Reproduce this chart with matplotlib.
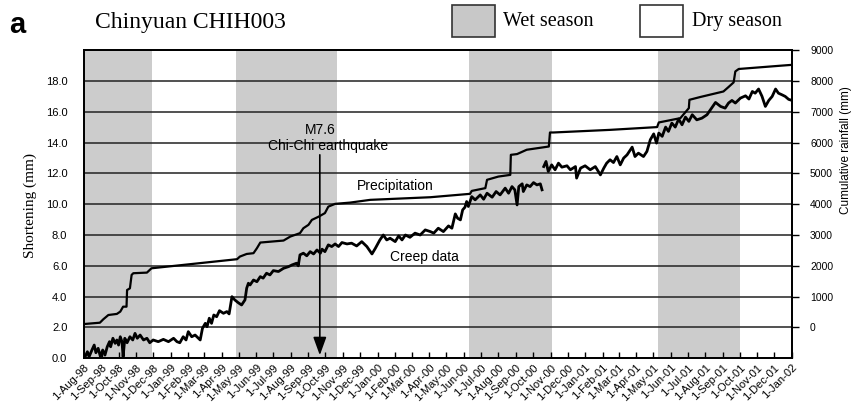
import numpy as np
import pandas as pd
import matplotlib
matplotlib.use("Agg")
import matplotlib.pyplot as plt
from matplotlib.patches import Rectangle

# time is given as days after 1-Aug-98
start = np.datetime64("1998-08-01")

# cumulative rainfall (mm), right axis
rain_days = [2, 28, 34, 43, 58, 64, 69, 75, 76, 81, 84, 87, 111, 119, 270, 275, 287, 299,
             305, 311, 352, 364, 381, 387, 396, 402, 414, 425, 431, 443, 469, 505, 611,
             681, 684, 708, 711, 731, 752, 753, 764, 781, 820, 822, 828, 928, 1011, 1014,
             1052, 1067, 1068, 1087, 1128, 1137, 1146, 1149, 1155, 1228, 1246]
rain_mm = [115, 155, 265, 405, 440, 515, 675, 675, 1215, 1270, 1705, 1760, 1780, 1920,
           2215, 2300, 2385, 2410, 2570, 2755, 2820, 2950, 3060, 3220, 3330, 3490, 3595,
           3710, 3920, 4010, 4050, 4140, 4225, 4335, 4430, 4520, 4790, 4895, 4950, 5600,
           5625, 5765, 5870, 6325, 6325, 6410, 6500, 6650, 6790, 7115, 7385, 7475, 7655,
           7800, 7950, 8305, 8385, 8490, 8515]

# creep data (shortening, mm) before the data gap
creep_days_a = [2, 6, 9, 14, 18, 21, 25, 29, 33, 37, 41, 45, 47, 51, 55, 58, 61, 64, 67, 69,
                72, 76, 81, 86, 90, 94, 99, 105, 111, 116, 122, 131, 140, 149, 158, 164, 169,
                175, 180, 184, 190, 196, 205, 209, 214, 217, 221, 225, 229, 234, 239, 246,
                252, 256, 261, 266, 272, 278, 284, 287, 290, 293, 299, 305, 311, 316, 322,
                328, 334, 343, 352, 361, 367, 375, 378, 381, 387, 393, 399, 405, 411, 417,
                420, 425, 431, 437, 443, 449, 455, 464, 472, 481, 490, 499, 508, 514, 522,
                528, 534, 540, 549, 555, 561, 567, 575, 584, 593, 602, 611, 617, 625, 634,
                643, 649, 655, 659, 664, 668, 672, 675, 678, 684, 690, 699, 705, 711, 720,
                727, 734, 743, 749, 755, 760, 764, 767, 773, 775, 781, 787, 793, 799, 805,
                808]
creep_mm_a = [0.1, 0.43, 0.1, 0.54, 0.86, 0.36, 0.65, 0.1, 0.54, 0.21, 0.75, 1.08, 0.75, 1.3,
              0.97, 1.19, 0.86, 1.4, 1.08, 0.1, 1.3, 1.01, 1.4, 1.19, 1.62, 1.3, 1.51, 1.19,
              1.3, 1.01, 1.19, 1.08, 1.23, 1.08, 1.3, 1.08, 1.01, 1.4, 1.19, 1.73, 1.4, 1.51,
              1.19, 1.95, 2.27, 2.05, 2.6, 2.27, 2.81, 2.7, 3.09, 2.92, 3.03, 2.88, 4.0, 3.79,
              3.61, 3.46, 3.79, 4.55, 4.87, 4.76, 5.08, 4.97, 5.3, 5.2, 5.52, 5.41, 5.69,
              5.63, 5.84, 5.95, 6.06, 6.17, 6.0, 6.71, 6.82, 6.65, 6.92, 6.77, 7.03, 6.82,
              7.08, 6.92, 7.36, 7.25, 7.42, 7.25, 7.51, 7.42, 7.47, 7.29, 7.57, 7.25, 6.77,
              7.14, 7.68, 8.0, 7.68, 7.79, 7.57, 7.94, 7.68, 8.0, 7.85, 8.12, 8.0, 8.33,
              8.22, 8.12, 8.44, 8.22, 8.59, 8.44, 9.37, 9.09, 8.98, 9.63, 9.8, 10.17, 9.85,
              10.49, 10.28, 10.6, 10.32, 10.71, 10.45, 10.82, 10.6, 11.04, 10.71, 11.14,
              10.93, 9.95, 11.14, 11.32, 10.82, 11.25, 11.14, 11.4, 11.25, 11.32, 10.93]

# creep data after the gap
creep_days_b = [811, 815, 819, 825, 831, 837, 843, 852, 858, 867, 869, 876, 884, 893, 902,
                911, 917, 922, 928, 934, 940, 946, 952, 958, 967, 972, 978, 987, 993, 999,
                1005, 1010, 1014, 1020, 1026, 1031, 1037, 1043, 1049, 1055, 1061, 1067,
                1073, 1081, 1090, 1099, 1105, 1114, 1123, 1131, 1137, 1143, 1149, 1158,
                1167, 1173, 1179, 1184, 1190, 1196, 1202, 1208, 1214, 1220, 1225, 1231,
                1237, 1243, 1249]
creep_mm_b = [12.44, 12.77, 12.12, 12.55, 12.23, 12.66, 12.4, 12.49, 12.23, 12.44, 11.69,
              12.34, 12.49, 12.23, 12.44, 11.9, 12.34, 12.66, 12.88, 12.7, 13.09, 12.55,
              12.99, 13.2, 13.7, 13.09, 13.31, 13.09, 13.42, 14.18, 14.56, 13.96, 14.61,
              14.4, 15.0, 14.72, 15.26, 15.0, 15.52, 15.15, 15.65, 15.37, 15.8, 15.47,
              15.58, 15.8, 16.12, 16.6, 16.34, 16.23, 16.56, 16.73, 16.56, 16.88, 17.03,
              16.82, 17.31, 17.2, 17.47, 17.0, 16.34, 16.73, 16.99, 17.47, 17.2, 17.1,
              16.99, 16.8, 16.73]

# wet seasons (start, end)
wet_seasons = [("1998-08-01", "1998-11-29"), ("1999-04-26", "1999-10-22"),
               ("2000-06-10", "2000-11-03"), ("2001-05-10", "2001-10-01")]
quake_date = "1999-09-21"


def to_dates(days):
    return start + np.array(days).astype("timedelta64[D]")


plt.rcParams["font.family"] = ["Liberation Sans", "DejaVu Sans"]

fig = plt.figure(figsize=(8.58, 4.12), dpi=100)
ax = fig.add_axes([0.0979, 0.1303, 0.8252, 0.7483])
ax2 = ax.twinx()

for s, e in wet_seasons:
    ax.axvspan(np.datetime64(s), np.datetime64(e), color="#cccccc", lw=0, zorder=0)

for v in np.arange(2, 20, 2):
    ax.axhline(v, color="#222222", lw=1.1, zorder=1)

ax.plot(to_dates(creep_days_a), creep_mm_a, color="black", lw=2.0, zorder=3)
ax.plot(to_dates(creep_days_b), creep_mm_b, color="black", lw=2.0, zorder=3)
ax2.plot(to_dates(rain_days), rain_mm, color="black", lw=1.6)

ax.set_xlim(np.datetime64("1998-08-01"), np.datetime64("2002-01-01"))
ax.set_ylim(0, 20)
ax2.set_ylim(-1000, 9000)

months = pd.date_range("1998-08-01", "2002-01-01", freq="MS")
ax.set_xticks(months)
ax.set_xticklabels([f"{d.day}-{d.strftime('%b-%y')}" for d in months],
                   rotation=45, ha="right", rotation_mode="anchor", fontsize=8)
ax.tick_params(axis="x", direction="in", length=4, width=1, pad=3)

ax.set_yticks(np.arange(0, 19, 2))
ax.set_yticklabels([f"{v:.1f}" for v in np.arange(0, 19, 2)], fontsize=8)
ax.tick_params(axis="y", length=0, pad=12)

ax2.set_yticks(np.arange(0, 9001, 1000))
ax2.set_yticklabels([str(v) for v in range(0, 9001, 1000)], fontsize=7.5)
ax2.tick_params(axis="y", direction="out", length=5, width=1, pad=8)

for a in (ax, ax2):
    for sp in a.spines.values():
        sp.set_linewidth(1.3)

# earthquake arrow
ax.annotate("", xy=(np.datetime64(quake_date), 0.2), xytext=(np.datetime64(quake_date), 13.2),
            arrowprops=dict(arrowstyle="-|>,head_length=1.1,head_width=0.4", color="black",
                            lw=1.2, shrinkA=0, shrinkB=0), zorder=4)
ax.text(np.datetime64(quake_date), 14.8, "M7.6", ha="center", va="center", fontsize=10)
ax.text(np.datetime64("1999-10-05"), 13.75, "Chi-Chi earthquake", ha="center", va="center",
        fontsize=10)
ax.text(np.datetime64("2000-02-01"), 11.2, "Precipitation", ha="center", va="center",
        fontsize=10)
ax.text(np.datetime64("2000-03-23"), 6.6, "Creep data", ha="center", va="center",
        fontsize=10)

# header, legend and axis titles
fig.text(0.011, 0.94, "a", fontsize=21, fontweight="bold", va="center")
fig.text(0.1107, 0.946, "Chinyuan CHIH003", family="Liberation Serif", fontsize=17,
         va="center")
fig.patches.append(Rectangle((0.5268, 0.9102), 0.0501, 0.0777, transform=fig.transFigure,
                             facecolor="#c8c8c8", edgecolor="#333333", lw=1.2))
fig.text(0.5862, 0.949, "Wet season", family="Liberation Serif", fontsize=14.5, va="center")
fig.patches.append(Rectangle((0.7459, 0.9102), 0.0501, 0.0777, transform=fig.transFigure,
                             facecolor="white", edgecolor="#333333", lw=1.2))
fig.text(0.8065, 0.949, "Dry season", family="Liberation Serif", fontsize=14.5, va="center")

fig.text(0.035, 0.5, "Shortening (mm)", family="Liberation Serif", fontsize=11,
         rotation=90, ha="center", va="center")
fig.text(0.986, 0.635, "Cumulative rainfall (mm)", fontsize=8.5, rotation=90,
         ha="center", va="center")

fig.savefig("out.png", dpi=100)
